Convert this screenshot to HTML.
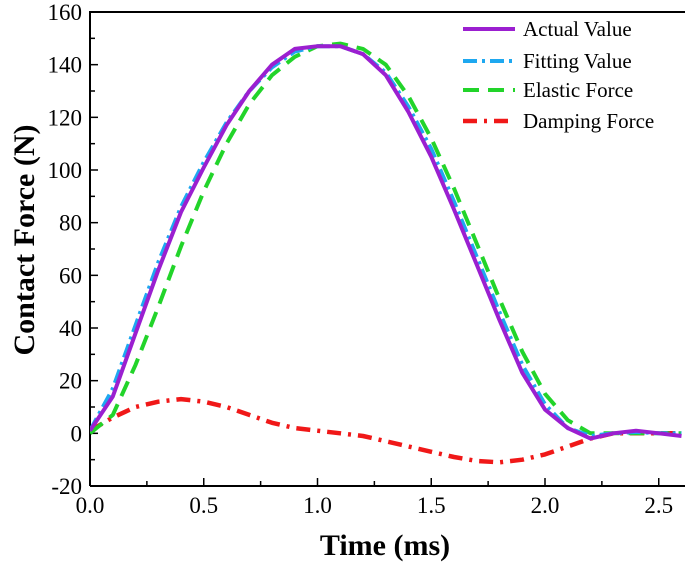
<!DOCTYPE html>
<html><head><meta charset="utf-8"><style>
body{margin:0;background:#fff}
svg{display:block;font-family:"Liberation Serif",serif}
</style></head><body>
<svg id="chart" width="685" height="562"></svg>
<script>
const xValues=[0,0.1,0.2,0.3,0.4,0.5,0.6,0.7,0.8,0.9,1.0,1.1,1.2,1.3,1.4,1.5,1.6,1.7,1.8,1.9,2.0,2.1,2.2,2.3,2.4,2.5,2.6];
const actualValue=[1,14,38,62,84,101,117,130,140,146,147,147,144,136,122,105,85,64,43,23,9,2,-2,0,1,0,-1];
const fittingValue=[1,17,41,65,86,103,118,130,139,145,147,147,144,137,124,108,88,67,46,26,11,2,-1,0,0.5,0,0];
const elasticForce=[0,7,26,48,71,92,110,125,136,143,147,148,146,140,128,112,93,72,51,31,15,5,0,0,0,0,0];
const dampingForce=[1,6,10,12,13,12,10,7,4,2,1,0,-1,-3,-5,-7,-9,-10.5,-11,-10,-8,-5,-2,0,0,0,0];
const xTicks=[0,0.5,1.0,1.5,2.0,2.5];
const xTickLabels=["0.0","0.5","1.0","1.5","2.0","2.5"];
const yTicks=[-20,0,20,40,60,80,100,120,140,160];
const yTickLabels=["-20","0","20","40","60","80","100","120","140","160"];
const seriesNames=["Actual Value","Fitting Value","Elastic Force","Damping Force"];

const NS="http://www.w3.org/2000/svg";
const svg=document.getElementById('chart');
const L=90,R=685,T=12,B=486;
const sx=v=>L+v*227.5;
const sy=v=>B-(v+20)*(B-T)/180;
function mk(tag,attrs,parent){const e=document.createElementNS(NS,tag);for(const k in attrs)e.setAttribute(k,attrs[k]);(parent||svg).appendChild(e);return e;}

const frame=mk('path',{d:`M${L},${B}V${T}H${R} M${L},${B}H${R}`,stroke:'#000','stroke-width':2,fill:'none'});



xTicks.forEach((t,i)=>{
  const x=sx(t);
  const tk=mk('line',{x1:x,x2:x,y1:B,y2:B-8,stroke:'#000','stroke-width':1.5});
  
  
  const m=sx(t+0.25);
  if(m<R){const mt=mk('line',{x1:m,x2:m,y1:B,y2:B-5,stroke:'#000','stroke-width':1.5});
  
  }
  const lb=mk('text',{x:x,y:B+27,'text-anchor':'middle','font-size':23});
  lb.textContent=xTickLabels[i];
  
  
});
yTicks.forEach((t,i)=>{
  const y=sy(t);
  const tk=mk('line',{x1:L,x2:L+8,y1:y,y2:y,stroke:'#000','stroke-width':1.5});
  
  
  if(t<160){const m=sy(t+10);const mt=mk('line',{x1:L,x2:L+5,y1:m,y2:m,stroke:'#000','stroke-width':1.5});
  
  }
  const lb=mk('text',{x:L-8,y:y+8,'text-anchor':'end','font-size':23});
  lb.textContent=yTickLabels[i];
  
  
});

const styles=[
 {c:'#9b1fd0',d:'',w:4},
 {c:'#1ea8f0',d:'14 5 3 5',w:4},
 {c:'#22d42a',d:'16 9',w:4},
 {c:'#f01818',d:'14 7 3 7',w:4.5}
];
const allSeries=[actualValue,fittingValue,elasticForce,dampingForce];
const clip=mk('clipPath',{id:'pc'});mk('rect',{x:L,y:T,width:R-L,height:B-T},clip);
[3,2,1,0].forEach(k=>{
  const d=allSeries[k].map((v,i)=>(i?'L':'M')+sx(xValues[i]).toFixed(1)+','+sy(v).toFixed(1)).join('');
  const p=mk('path',{d:d,fill:'none',stroke:styles[k].c,'stroke-width':styles[k].w,'stroke-dasharray':styles[k].d,'stroke-linejoin':'round','clip-path':'url(#pc)'});
  
  
});

const legY=[29,61,90,121];
seriesNames.forEach((n,k)=>{
  const ln=mk('line',{x1:463,x2:515,y1:legY[k],y2:legY[k],stroke:styles[k].c,'stroke-width':styles[k].w,'stroke-dasharray':styles[k].d});
  
  
  const t=mk('text',{x:523,y:legY[k]+7,'font-size':21});
  t.textContent=n;
  
  
});

const xl=mk('text',{x:385,y:555,'text-anchor':'middle','font-size':30,'font-weight':'bold'});
xl.textContent='Time (ms)';


const yl=mk('text',{x:0,y:0,'text-anchor':'middle','font-size':30,'font-weight':'bold',transform:'translate(34,240) rotate(-90)'});
yl.textContent='Contact Force (N)';


</script>
</body></html>
